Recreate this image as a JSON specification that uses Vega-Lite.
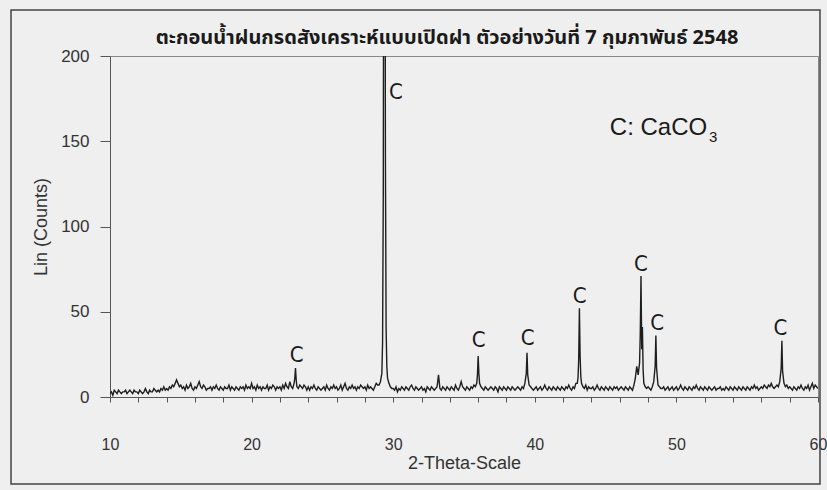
{
  "$schema": "https://vega.github.io/schema/vega-lite/v6.json",
  "width": 708,
  "height": 341,
  "autosize": {"type": "none"},
  "padding": {"left": 110, "top": 56, "right": 9, "bottom": 93},
  "background": "#efefef",
  "title": {
    "text": "ตะกอนน้ำฝนกรดสังเคราะห์แบบเปิดฝา ตัวอย่างวันที่ 7 กุมภาพันธ์ 2548",
    "font": "Noto Sans Thai, Loma, Garuda, Tlwg Typo, DejaVu Sans, sans-serif",
    "fontSize": 20,
    "fontWeight": "bold",
    "color": "#1a1a1a",
    "dx": -17,
    "offset": -39
  },
  "resolve": {"axis": {"x": "independent", "y": "independent"}},
  "config": {
    "view": {"stroke": "#888888", "strokeWidth": 1},
    "axis": {
      "grid": false,
      "domainColor": "#555555",
      "tickColor": "#555555",
      "labelColor": "#333333",
      "titleColor": "#333333",
      "labelFont": "Liberation Sans",
      "titleFont": "Liberation Sans",
      "labelFontSize": 16,
      "titleFontSize": 18,
      "titleFontWeight": "normal"
    }
  },
  "layer": [
    {
      "data": {"values": [{"frame": "outer"}]},
      "mark": {"type": "rect", "fillOpacity": 0, "stroke": "#444444", "strokeWidth": 1.5, "clip": false},
      "encoding": {
        "x": {"datum": 3.01, "type": "quantitative", "axis": null},
        "x2": {"datum": 60.14},
        "y": {"datum": 227, "type": "quantitative", "axis": null},
        "y2": {"datum": -51}
      }
    },
    {
      "data": {"values": [
        {"x":10.0,"y":2},{"x":10.1,"y":3},{"x":10.2,"y":1},{"x":10.3,"y":4},{"x":10.4,"y":3},{"x":10.5,"y":2},{"x":10.6,"y":4},{"x":10.7,"y":3},{"x":10.8,"y":2},{"x":10.9,"y":3},
        {"x":11.0,"y":3},{"x":11.1,"y":4},{"x":11.2,"y":2},{"x":11.3,"y":3},{"x":11.4,"y":4},{"x":11.5,"y":3},{"x":11.6,"y":2},{"x":11.7,"y":4},{"x":11.8,"y":3},{"x":11.9,"y":3},
        {"x":12.0,"y":2},{"x":12.1,"y":4},{"x":12.2,"y":3},{"x":12.3,"y":2},{"x":12.4,"y":3},{"x":12.5,"y":5},{"x":12.6,"y":3},{"x":12.7,"y":2},{"x":12.8,"y":4},{"x":12.9,"y":3},
        {"x":13.0,"y":3},{"x":13.1,"y":5},{"x":13.2,"y":4},{"x":13.3,"y":3},{"x":13.4,"y":4},{"x":13.5,"y":3},{"x":13.6,"y":5},{"x":13.7,"y":4},{"x":13.8,"y":6},{"x":13.9,"y":4},
        {"x":14.0,"y":5},{"x":14.1,"y":4},{"x":14.2,"y":6},{"x":14.3,"y":5},{"x":14.4,"y":7},{"x":14.5,"y":6},{"x":14.6,"y":8},{"x":14.7,"y":10},{"x":14.8,"y":8},{"x":14.9,"y":6},
        {"x":15.0,"y":7},{"x":15.1,"y":5},{"x":15.2,"y":6},{"x":15.3,"y":4},{"x":15.4,"y":7},{"x":15.5,"y":5},{"x":15.6,"y":6},{"x":15.7,"y":8},{"x":15.8,"y":5},{"x":15.9,"y":4},
        {"x":16.0,"y":6},{"x":16.1,"y":5},{"x":16.2,"y":7},{"x":16.3,"y":9},{"x":16.4,"y":6},{"x":16.5,"y":5},{"x":16.6,"y":7},{"x":16.7,"y":6},{"x":16.8,"y":4},{"x":16.9,"y":5},
        {"x":17.0,"y":5},{"x":17.1,"y":6},{"x":17.2,"y":4},{"x":17.3,"y":6},{"x":17.4,"y":5},{"x":17.5,"y":7},{"x":17.6,"y":5},{"x":17.7,"y":4},{"x":17.8,"y":6},{"x":17.9,"y":5},
        {"x":18.0,"y":4},{"x":18.1,"y":6},{"x":18.2,"y":5},{"x":18.3,"y":5},{"x":18.4,"y":7},{"x":18.5,"y":4},{"x":18.6,"y":6},{"x":18.7,"y":5},{"x":18.8,"y":4},{"x":18.9,"y":6},
        {"x":19.0,"y":5},{"x":19.1,"y":4},{"x":19.2,"y":6},{"x":19.3,"y":5},{"x":19.4,"y":6},{"x":19.5,"y":4},{"x":19.6,"y":7},{"x":19.7,"y":5},{"x":19.8,"y":6},{"x":19.9,"y":5},
        {"x":20.0,"y":8},{"x":20.1,"y":5},{"x":20.2,"y":6},{"x":20.3,"y":4},{"x":20.4,"y":7},{"x":20.5,"y":5},{"x":20.6,"y":6},{"x":20.7,"y":4},{"x":20.8,"y":6},{"x":20.9,"y":5},
        {"x":21.0,"y":5},{"x":21.1,"y":7},{"x":21.2,"y":4},{"x":21.3,"y":6},{"x":21.4,"y":5},{"x":21.5,"y":7},{"x":21.6,"y":6},{"x":21.7,"y":4},{"x":21.8,"y":6},{"x":21.9,"y":5},
        {"x":22.0,"y":6},{"x":22.1,"y":4},{"x":22.2,"y":7},{"x":22.3,"y":5},{"x":22.4,"y":8},{"x":22.5,"y":6},{"x":22.6,"y":5},{"x":22.7,"y":9},{"x":22.8,"y":6},{"x":22.9,"y":5},
        {"x":23.0,"y":8},{"x":23.05,"y":11},{"x":23.1,"y":17},{"x":23.15,"y":10},{"x":23.2,"y":6},{"x":23.3,"y":5},{"x":23.4,"y":7},{"x":23.5,"y":6},{"x":23.6,"y":5},{"x":23.7,"y":7},{"x":23.8,"y":6},{"x":23.9,"y":4},
        {"x":24.0,"y":6},{"x":24.1,"y":4},{"x":24.2,"y":6},{"x":24.3,"y":5},{"x":24.4,"y":7},{"x":24.5,"y":5},{"x":24.6,"y":4},{"x":24.7,"y":6},{"x":24.8,"y":5},{"x":24.9,"y":4},
        {"x":25.0,"y":5},{"x":25.1,"y":6},{"x":25.2,"y":4},{"x":25.3,"y":7},{"x":25.4,"y":5},{"x":25.5,"y":4},{"x":25.6,"y":6},{"x":25.7,"y":5},{"x":25.8,"y":7},{"x":25.9,"y":5},
        {"x":26.0,"y":6},{"x":26.1,"y":4},{"x":26.2,"y":5},{"x":26.3,"y":7},{"x":26.4,"y":4},{"x":26.5,"y":6},{"x":26.6,"y":8},{"x":26.7,"y":5},{"x":26.8,"y":4},{"x":26.9,"y":6},
        {"x":27.0,"y":5},{"x":27.1,"y":7},{"x":27.2,"y":5},{"x":27.3,"y":6},{"x":27.4,"y":4},{"x":27.5,"y":6},{"x":27.6,"y":5},{"x":27.7,"y":7},{"x":27.8,"y":6},{"x":27.9,"y":5},
        {"x":28.0,"y":6},{"x":28.1,"y":4},{"x":28.2,"y":7},{"x":28.3,"y":5},{"x":28.4,"y":6},{"x":28.5,"y":5},{"x":28.6,"y":4},{"x":28.7,"y":6},{"x":28.8,"y":8},{"x":28.9,"y":7},
        {"x":29.0,"y":7},{"x":29.1,"y":9},{"x":29.2,"y":14},{"x":29.25,"y":32},{"x":29.3,"y":120},{"x":29.35,"y":420},{"x":29.4,"y":440},{"x":29.45,"y":140},{"x":29.5,"y":40},{"x":29.55,"y":18},{"x":29.6,"y":11},{"x":29.7,"y":8},{"x":29.8,"y":6},{"x":29.9,"y":5},
        {"x":30.0,"y":5},{"x":30.1,"y":4},{"x":30.2,"y":6},{"x":30.3,"y":3},{"x":30.4,"y":5},{"x":30.5,"y":4},{"x":30.6,"y":6},{"x":30.7,"y":5},{"x":30.8,"y":4},{"x":30.9,"y":6},
        {"x":31.0,"y":5},{"x":31.1,"y":4},{"x":31.2,"y":6},{"x":31.3,"y":7},{"x":31.4,"y":5},{"x":31.5,"y":4},{"x":31.6,"y":6},{"x":31.7,"y":5},{"x":31.8,"y":4},{"x":31.9,"y":5},
        {"x":32.0,"y":6},{"x":32.1,"y":4},{"x":32.2,"y":5},{"x":32.3,"y":3},{"x":32.4,"y":6},{"x":32.5,"y":5},{"x":32.6,"y":4},{"x":32.7,"y":6},{"x":32.8,"y":5},{"x":32.9,"y":4},
        {"x":33.0,"y":5},{"x":33.1,"y":6},{"x":33.2,"y":13},{"x":33.3,"y":5},{"x":33.4,"y":4},{"x":33.5,"y":6},{"x":33.6,"y":5},{"x":33.7,"y":4},{"x":33.8,"y":6},{"x":33.9,"y":5},
        {"x":34.0,"y":4},{"x":34.1,"y":6},{"x":34.2,"y":5},{"x":34.3,"y":4},{"x":34.4,"y":7},{"x":34.5,"y":5},{"x":34.6,"y":4},{"x":34.7,"y":6},{"x":34.8,"y":9},{"x":34.9,"y":6},
        {"x":35.0,"y":5},{"x":35.1,"y":4},{"x":35.2,"y":6},{"x":35.3,"y":5},{"x":35.4,"y":4},{"x":35.5,"y":6},{"x":35.6,"y":5},{"x":35.7,"y":7},{"x":35.8,"y":6},{"x":35.9,"y":8},
        {"x":35.95,"y":13},{"x":36.0,"y":24},{"x":36.05,"y":14},{"x":36.1,"y":8},{"x":36.2,"y":6},{"x":36.3,"y":5},{"x":36.4,"y":4},{"x":36.5,"y":6},{"x":36.6,"y":5},{"x":36.7,"y":4},{"x":36.8,"y":5},{"x":36.9,"y":6},
        {"x":37.0,"y":5},{"x":37.1,"y":4},{"x":37.2,"y":6},{"x":37.3,"y":5},{"x":37.4,"y":3},{"x":37.5,"y":6},{"x":37.6,"y":5},{"x":37.7,"y":4},{"x":37.8,"y":6},{"x":37.9,"y":5},
        {"x":38.0,"y":4},{"x":38.1,"y":6},{"x":38.2,"y":5},{"x":38.3,"y":4},{"x":38.4,"y":6},{"x":38.5,"y":5},{"x":38.6,"y":4},{"x":38.7,"y":5},{"x":38.8,"y":6},{"x":38.9,"y":5},
        {"x":39.0,"y":4},{"x":39.1,"y":6},{"x":39.2,"y":5},{"x":39.3,"y":8},{"x":39.4,"y":14},{"x":39.45,"y":26},{"x":39.5,"y":13},{"x":39.6,"y":7},{"x":39.7,"y":6},{"x":39.8,"y":5},{"x":39.9,"y":4},
        {"x":40.0,"y":5},{"x":40.1,"y":6},{"x":40.2,"y":4},{"x":40.3,"y":5},{"x":40.4,"y":6},{"x":40.5,"y":4},{"x":40.6,"y":5},{"x":40.7,"y":7},{"x":40.8,"y":5},{"x":40.9,"y":4},
        {"x":41.0,"y":6},{"x":41.1,"y":5},{"x":41.2,"y":4},{"x":41.3,"y":6},{"x":41.4,"y":5},{"x":41.5,"y":4},{"x":41.6,"y":6},{"x":41.7,"y":5},{"x":41.8,"y":4},{"x":41.9,"y":6},
        {"x":42.0,"y":5},{"x":42.1,"y":4},{"x":42.2,"y":6},{"x":42.3,"y":5},{"x":42.4,"y":7},{"x":42.5,"y":5},{"x":42.6,"y":4},{"x":42.7,"y":6},{"x":42.8,"y":5},{"x":42.9,"y":8},
        {"x":43.0,"y":8},{"x":43.05,"y":11},{"x":43.1,"y":22},{"x":43.15,"y":52},{"x":43.2,"y":24},{"x":43.25,"y":12},{"x":43.3,"y":8},{"x":43.4,"y":6},{"x":43.5,"y":5},{"x":43.6,"y":7},{"x":43.7,"y":4},{"x":43.8,"y":6},{"x":43.9,"y":5},
        {"x":44.0,"y":5},{"x":44.1,"y":6},{"x":44.2,"y":4},{"x":44.3,"y":5},{"x":44.4,"y":7},{"x":44.5,"y":5},{"x":44.6,"y":4},{"x":44.7,"y":6},{"x":44.8,"y":5},{"x":44.9,"y":4},
        {"x":45.0,"y":6},{"x":45.1,"y":5},{"x":45.2,"y":4},{"x":45.3,"y":6},{"x":45.4,"y":5},{"x":45.5,"y":4},{"x":45.6,"y":6},{"x":45.7,"y":5},{"x":45.8,"y":6},{"x":45.9,"y":4},
        {"x":46.0,"y":5},{"x":46.1,"y":6},{"x":46.2,"y":5},{"x":46.3,"y":4},{"x":46.4,"y":6},{"x":46.5,"y":5},{"x":46.6,"y":4},{"x":46.7,"y":6},{"x":46.8,"y":5},{"x":46.9,"y":4},
        {"x":47.0,"y":7},{"x":47.1,"y":11},{"x":47.2,"y":18},{"x":47.3,"y":13},{"x":47.4,"y":20},{"x":47.45,"y":38},{"x":47.5,"y":71},{"x":47.55,"y":28},{"x":47.6,"y":41},{"x":47.65,"y":16},{"x":47.7,"y":8},{"x":47.8,"y":6},{"x":47.9,"y":5},
        {"x":48.0,"y":6},{"x":48.1,"y":5},{"x":48.2,"y":4},{"x":48.3,"y":6},{"x":48.4,"y":9},{"x":48.5,"y":18},{"x":48.55,"y":36},{"x":48.6,"y":17},{"x":48.7,"y":7},{"x":48.8,"y":6},{"x":48.9,"y":5},
        {"x":49.0,"y":5},{"x":49.1,"y":6},{"x":49.2,"y":4},{"x":49.3,"y":5},{"x":49.4,"y":6},{"x":49.5,"y":4},{"x":49.6,"y":5},{"x":49.7,"y":6},{"x":49.8,"y":4},{"x":49.9,"y":5},
        {"x":50.0,"y":6},{"x":50.1,"y":4},{"x":50.2,"y":5},{"x":50.3,"y":7},{"x":50.4,"y":5},{"x":50.5,"y":4},{"x":50.6,"y":6},{"x":50.7,"y":5},{"x":50.8,"y":4},{"x":50.9,"y":6},
        {"x":51.0,"y":5},{"x":51.1,"y":4},{"x":51.2,"y":6},{"x":51.3,"y":5},{"x":51.4,"y":7},{"x":51.5,"y":5},{"x":51.6,"y":4},{"x":51.7,"y":6},{"x":51.8,"y":5},{"x":51.9,"y":4},
        {"x":52.0,"y":6},{"x":52.1,"y":5},{"x":52.2,"y":4},{"x":52.3,"y":6},{"x":52.4,"y":5},{"x":52.5,"y":4},{"x":52.6,"y":5},{"x":52.7,"y":6},{"x":52.8,"y":4},{"x":52.9,"y":5},
        {"x":53.0,"y":5},{"x":53.1,"y":6},{"x":53.2,"y":4},{"x":53.3,"y":5},{"x":53.4,"y":4},{"x":53.5,"y":6},{"x":53.6,"y":5},{"x":53.7,"y":4},{"x":53.8,"y":6},{"x":53.9,"y":5},
        {"x":54.0,"y":4},{"x":54.1,"y":6},{"x":54.2,"y":5},{"x":54.3,"y":4},{"x":54.4,"y":6},{"x":54.5,"y":5},{"x":54.6,"y":4},{"x":54.7,"y":6},{"x":54.8,"y":5},{"x":54.9,"y":4},
        {"x":55.0,"y":6},{"x":55.1,"y":5},{"x":55.2,"y":4},{"x":55.3,"y":6},{"x":55.4,"y":5},{"x":55.5,"y":7},{"x":55.6,"y":5},{"x":55.7,"y":6},{"x":55.8,"y":4},{"x":55.9,"y":5},
        {"x":56.0,"y":6},{"x":56.1,"y":5},{"x":56.2,"y":7},{"x":56.3,"y":6},{"x":56.4,"y":5},{"x":56.5,"y":7},{"x":56.6,"y":6},{"x":56.7,"y":8},{"x":56.8,"y":6},{"x":56.9,"y":5},
        {"x":57.0,"y":6},{"x":57.1,"y":7},{"x":57.2,"y":6},{"x":57.3,"y":9},{"x":57.4,"y":17},{"x":57.45,"y":33},{"x":57.5,"y":15},{"x":57.6,"y":8},{"x":57.7,"y":6},{"x":57.8,"y":7},{"x":57.9,"y":5},
        {"x":58.0,"y":6},{"x":58.1,"y":5},{"x":58.2,"y":4},{"x":58.3,"y":6},{"x":58.4,"y":5},{"x":58.5,"y":4},{"x":58.6,"y":6},{"x":58.7,"y":5},{"x":58.8,"y":7},{"x":58.9,"y":5},
        {"x":59.0,"y":4},{"x":59.1,"y":6},{"x":59.2,"y":5},{"x":59.3,"y":7},{"x":59.4,"y":4},{"x":59.5,"y":6},{"x":59.6,"y":8},{"x":59.7,"y":5},{"x":59.8,"y":7},{"x":59.9,"y":6},
        {"x":60.0,"y":5}
      ]},
      "mark": {"type": "line", "color": "#1e1e1e", "strokeWidth": 1.4, "clip": true},
      "encoding": {
        "x": {
          "field": "x", "type": "quantitative",
          "scale": {"domain": [10, 60], "nice": false, "zero": false},
          "axis": {
            "title": "2-Theta-Scale",
            "values": [10,12,14,16,18,20,22,24,26,28,30,32,34,36,38,40,42,44,46,48,50,52,54,56,58,60],
            "labelExpr": "datum.value % 10 === 0 ? datum.label : ''",
            "tickSize": 5,
            "labelPadding": 34,
            "labelFlush": false,
            "labelBound": false,
            "labelOverlap": false,
            "titlePadding": 2
          }
        },
        "y": {
          "field": "y", "type": "quantitative",
          "scale": {"domain": [0, 200], "nice": false},
          "axis": {
            "title": "Lin (Counts)",
            "values": [0, 50, 100, 150, 200],
            "tickSize": 10,
            "labelPadding": 11,
            "labelFontSize": 17,
            "titlePadding": 10
          }
        }
      }
    },
    {
      "data": {"values": [
        {"x": 23.19, "y": 24.6, "label": "C"},
        {"x": 30.19, "y": 179, "label": "C"},
        {"x": 36.03, "y": 33.4, "label": "C"},
        {"x": 39.49, "y": 34.8, "label": "C"},
        {"x": 43.17, "y": 59.2, "label": "C"},
        {"x": 47.5, "y": 78, "label": "C"},
        {"x": 48.64, "y": 43.2, "label": "C"},
        {"x": 57.35, "y": 40.3, "label": "C"}
      ]},
      "mark": {"type": "text", "font": "Liberation Sans Narrow, DejaVu Sans Condensed, Liberation Sans, sans-serif", "fontSize": 22, "color": "#1a1a1a", "baseline": "middle", "align": "center"},
      "encoding": {
        "x": {"field": "x", "type": "quantitative", "axis": null},
        "y": {"field": "y", "type": "quantitative", "axis": null},
        "text": {"field": "label"}
      }
    },
    {
      "data": {"values": [{"x": 45.3, "y": 153.7, "label": "C: CaCO"}]},
      "mark": {"type": "text", "font": "Liberation Sans", "fontSize": 24, "color": "#1a1a1a", "baseline": "alphabetic", "align": "left"},
      "encoding": {
        "x": {"field": "x", "type": "quantitative", "axis": null},
        "y": {"field": "y", "type": "quantitative", "axis": null},
        "text": {"field": "label"}
      }
    },
    {
      "data": {"values": [{"x": 52.3, "y": 149.5, "label": "3"}]},
      "mark": {"type": "text", "font": "Liberation Sans", "fontSize": 15, "color": "#1a1a1a", "baseline": "alphabetic", "align": "left"},
      "encoding": {
        "x": {"field": "x", "type": "quantitative", "axis": null},
        "y": {"field": "y", "type": "quantitative", "axis": null},
        "text": {"field": "label"}
      }
    }
  ]
}
